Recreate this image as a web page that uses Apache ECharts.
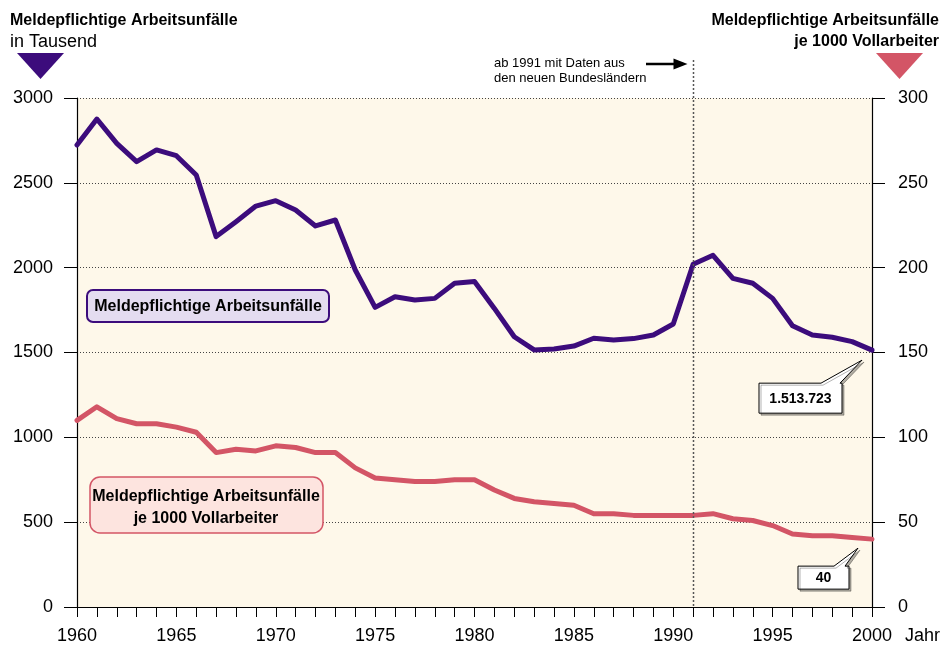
<!DOCTYPE html>
<html>
<head>
<meta charset="utf-8">
<title>Meldepflichtige Arbeitsunfälle 1960-2000</title>
<script src="https://cdn.jsdelivr.net/npm/echarts@6/dist/echarts.min.js"></script>
<style>
  html, body { margin: 0; padding: 0; background: #ffffff; }
  #chart { width: 944px; height: 646px; }
</style>
</head>
<body>
<div id="chart"></div>
<script>
// Jahre 1960 - 2000
const years = [
  1960, 1961, 1962, 1963, 1964, 1965, 1966, 1967, 1968, 1969,
  1970, 1971, 1972, 1973, 1974, 1975, 1976, 1977, 1978, 1979,
  1980, 1981, 1982, 1983, 1984, 1985, 1986, 1987, 1988, 1989,
  1990, 1991, 1992, 1993, 1994, 1995, 1996, 1997, 1998, 1999,
  2000
];

// Meldepflichtige Arbeitsunfälle in Tausend (linke Achse)
const accidents = [
  2723, 2876, 2733, 2625, 2694, 2660, 2546, 2183, 2271, 2363,
  2395, 2340, 2246, 2281, 1986, 1766, 1829, 1809, 1819, 1908,
  1918, 1760, 1593, 1515, 1521, 1538, 1584, 1574, 1582, 1603,
  1668, 2020, 2073, 1937, 1908, 1819, 1658, 1603, 1590, 1564,
  1513.723
];

// Meldepflichtige Arbeitsunfälle je 1000 Vollarbeiter (rechte Achse)
const perThousand = [
  110, 118, 111, 108, 108, 106, 103, 91, 93, 92,
  95, 94, 91, 91, 82, 76, 75, 74, 74, 75,
  75, 69, 64, 62, 61, 60, 55, 55, 54, 54,
  54, 54, 55, 52, 51, 48, 43, 42, 42, 41,
  40
];

const leftTicks = [0, 500, 1000, 1500, 2000, 2500, 3000];
const rightTicks = [0, 50, 100, 150, 200, 250, 300];
const reunificationYear = 1991;
const lastAccidentsLabel = '1.513.723';
const lastRateLabel = '40';

const FONT = "'Liberation Sans', Arial, Helvetica, sans-serif";
const PURPLE = '#3c0c7c';
const RED = '#d35566';

const chart = echarts.init(document.getElementById('chart'), null, { renderer: 'canvas' });

const option = {
  animation: false,
  backgroundColor: '#ffffff',
  textStyle: { fontFamily: FONT },
  grid: {
    left: 77, right: 72, top: 98, bottom: 39,
    show: true,
    backgroundColor: '#fef8ea',
    borderWidth: 0
  },
  xAxis: {
    type: 'value',
    min: years[0],
    max: years[years.length - 1],
    interval: 1,
    name: 'Jahr',
    nameLocation: 'end',
    nameGap: 33,
    nameTextStyle: {
      color: '#000', fontSize: 18, fontFamily: FONT,
      verticalAlign: 'top', padding: [20, 0, 0, 0]
    },
    axisLine: { show: true, onZero: false, lineStyle: { color: '#000', width: 1.2 } },
    axisTick: { show: true, inside: false, length: 10, lineStyle: { color: '#000', width: 1 } },
    axisLabel: {
      color: '#000', fontSize: 18, fontFamily: FONT, margin: 20,
      formatter: v => (v % 5 === 0 ? String(v) : '')
    },
    splitLine: { show: false }
  },
  yAxis: [
    {
      type: 'value',
      position: 'left',
      min: leftTicks[0],
      max: leftTicks[leftTicks.length - 1],
      interval: leftTicks[1] - leftTicks[0],
      axisLine: { show: true, lineStyle: { color: '#000', width: 1.2 } },
      axisTick: { show: true, length: 13, lineStyle: { color: '#000', width: 1 } },
      axisLabel: { color: '#000', fontSize: 18, fontFamily: FONT, margin: 24, formatter: v => String(v) },
      splitLine: { show: true, lineStyle: { color: '#444', width: 1, type: [1, 2] } }
    },
    {
      type: 'value',
      position: 'right',
      min: rightTicks[0],
      max: rightTicks[rightTicks.length - 1],
      interval: rightTicks[1] - rightTicks[0],
      axisLine: { show: true, lineStyle: { color: '#000', width: 1.2 } },
      axisTick: { show: true, length: 13, lineStyle: { color: '#000', width: 1 } },
      axisLabel: { color: '#000', fontSize: 18, fontFamily: FONT, margin: 26, formatter: v => String(v) },
      splitLine: { show: false }
    }
  ],
  series: [
    {
      name: 'Meldepflichtige Arbeitsunfälle',
      type: 'line',
      yAxisIndex: 0,
      data: years.map((y, i) => [y, accidents[i]]),
      showSymbol: false,
      symbol: 'none',
      z: 3,
      lineStyle: { color: PURPLE, width: 5, cap: 'round', join: 'round' }
    },
    {
      name: 'Meldepflichtige Arbeitsunfälle je 1000 Vollarbeiter',
      type: 'line',
      yAxisIndex: 1,
      data: years.map((y, i) => [y, perThousand[i]]),
      showSymbol: false,
      symbol: 'none',
      z: 3,
      lineStyle: { color: RED, width: 5, cap: 'round', join: 'round' }
    }
  ]
};

chart.setOption(option);

// Callout box with a pointer towards the data point (offsets relative to the point)
const callout = (p, box, base, tip, text) => {
  const [px, py] = p;
  const l = px + box[0], r = px + box[1], t = py + box[2], b = py + box[3];
  return [
    {
      type: 'polygon',
      z: 20,
      shape: {
        points: [
          [l, t], [px + base[0], t], [px + tip[0], py + tip[1]], [px + base[1], t],
          [r, t], [r, b], [l, b]
        ]
      },
      style: {
        fill: '#ffffff', stroke: '#000', lineWidth: 1,
        shadowColor: 'rgba(0,0,0,0.3)', shadowOffsetX: 2, shadowOffsetY: 2, shadowBlur: 0
      }
    },
    {
      type: 'text',
      z: 21,
      x: (l + r) / 2,
      y: (t + b) / 2 + 1,
      style: {
        text: text, fill: '#000', align: 'center', verticalAlign: 'middle',
        font: 'bold 14px ' + FONT
      }
    }
  ];
};

const last = years.length - 1;
const pA = chart.convertToPixel({ xAxisIndex: 0, yAxisIndex: 0 }, [years[last], accidents[last]]);
const pR = chart.convertToPixel({ xAxisIndex: 0, yAxisIndex: 1 }, [years[last], perThousand[last]]);
const pLineTop = chart.convertToPixel({ xAxisIndex: 0, yAxisIndex: 0 }, [reunificationYear, 3224]);
const pLineBottom = chart.convertToPixel({ xAxisIndex: 0, yAxisIndex: 0 }, [reunificationYear, 0]);
const lx = Math.round(pLineTop[0]) + 0.5;

const graphics = [
  // left header
  { type: 'text', x: 10, y: 21, style: { text: 'Meldepflichtige Arbeitsunfälle', font: 'bold 16px ' + FONT, fill: '#000', verticalAlign: 'middle' } },
  { type: 'text', x: 10, y: 42, style: { text: 'in Tausend', font: '18px ' + FONT, fill: '#000', verticalAlign: 'middle' } },
  { type: 'polygon', shape: { points: [[17, 53], [64, 53], [40.5, 79]] }, style: { fill: PURPLE } },
  // right header
  { type: 'text', x: 939, y: 21, style: { text: 'Meldepflichtige Arbeitsunfälle', font: 'bold 16px ' + FONT, fill: '#000', align: 'right', verticalAlign: 'middle' } },
  { type: 'text', x: 939, y: 42, style: { text: 'je 1000 Vollarbeiter', font: 'bold 16px ' + FONT, fill: '#000', align: 'right', verticalAlign: 'middle' } },
  { type: 'polygon', shape: { points: [[876, 53], [923, 53], [899.5, 79]] }, style: { fill: RED } },
  // 1991 divider
  { type: 'line', z: 5, shape: { x1: lx, y1: pLineTop[1], x2: lx, y2: pLineBottom[1] },
    style: { stroke: '#555', lineWidth: 1.5, lineDash: [2, 2] } },
  // note about 1991
  { type: 'text', x: 494, y: 63, style: { text: 'ab 1991 mit Daten aus', font: '13px ' + FONT, fill: '#000', verticalAlign: 'middle' } },
  { type: 'text', x: 494, y: 78, style: { text: 'den neuen Bundesländern', font: '13px ' + FONT, fill: '#000', verticalAlign: 'middle' } },
  { type: 'line', shape: { x1: 646, y1: 64, x2: lx - 14, y2: 64 }, style: { stroke: '#000', lineWidth: 2.5 } },
  { type: 'polygon', shape: { points: [[lx - 20, 58.5], [lx - 6, 64], [lx - 20, 69.5]] }, style: { fill: '#000' } },
  // series labels
  { type: 'rect', z: 10, shape: { x: 87, y: 290, width: 242, height: 32, r: 6 }, style: { fill: '#e4dcf0', stroke: PURPLE, lineWidth: 2 } },
  { type: 'text', z: 11, x: 208, y: 307, style: {
      text: 'Meldepflichtige Arbeitsunfälle', font: 'bold 16px ' + FONT, fill: '#000',
      align: 'center', verticalAlign: 'middle',
      textShadowColor: 'rgba(0,0,0,0.25)', textShadowOffsetX: 1, textShadowOffsetY: 1 } },
  { type: 'rect', z: 10, shape: { x: 90, y: 477, width: 233, height: 56, r: 10 }, style: { fill: '#fde4df', stroke: RED, lineWidth: 1.5 } },
  { type: 'text', z: 11, x: 206, y: 508, style: {
      text: 'Meldepflichtige Arbeitsunfälle\nje 1000 Vollarbeiter', font: 'bold 16px ' + FONT, lineHeight: 22, fill: '#000',
      align: 'center', verticalAlign: 'middle',
      textShadowColor: 'rgba(0,0,0,0.25)', textShadowOffsetX: 1, textShadowOffsetY: 1 } }
]
  .concat(callout(pA, [-113, -30, 33, 63], [-51, -32], [-10, 10], lastAccidentsLabel))
  .concat(callout(pR, [-74, -23, 27, 50], [-38, -27], [-14, 9], lastRateLabel));

chart.setOption({ graphic: graphics });

window.addEventListener('resize', function() {
  chart.resize();
});
</script>
</body>
</html>
